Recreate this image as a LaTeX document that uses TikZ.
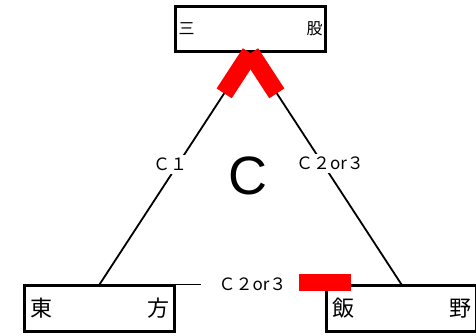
\documentclass[tikz,border=0pt]{standalone}
\usepackage{fontspec}
\setmainfont{Noto Sans CJK JP}
\newfontfamily\markfont{Liberation Sans}
\usetikzlibrary{positioning, calc}
\definecolor{LinkRed}{RGB}{255,0,0}
\newcommand{\spreadname}[3]{\makebox[#3]{#1\hfill#2}}
\tikzset{
  station/.style={
    rectangle, draw=black, line width=3pt, fill=white,
    minimum width=150pt, minimum height=45pt, inner sep=0pt
  },
  link/.style={draw=black, line width=1.8pt},
  clbl/.style={fill=white, inner sep=3pt, font=\fontsize{17pt}{17pt}\selectfont},
  redbar/.style={fill=LinkRed, inner sep=0pt, minimum width=48pt, minimum height=18pt}
}

\begin{document}
\begin{tikzpicture}[x=1pt, y=-1pt]
  \useasboundingbox (0,0) rectangle (476,336);

  % Stations
  \node[station, font=\fontsize{16pt}{16pt}\selectfont]
        (sanmata) at (250.5, 29) {\spreadname{三}{股}{144pt}};
  \node[station, font=\fontsize{22pt}{22pt}\selectfont]
        (higashi) at (99.5, 308.5) {\spreadname{東}{方}{139pt}};
  \node[station, font=\fontsize{22pt}{22pt}\selectfont]
        (iino) at (401.5, 308.5) {\spreadname{飯}{野}{139pt}};

  % Class mark
  \node[font=\markfont\fontsize{54pt}{54pt}\selectfont] (cls) at (248, 176) {C};

  % Links
  \draw[link] (higashi.north) -- node[clbl, xshift=-5pt, yshift=4pt] (c1) {Ｃ１} (sanmata.south);
  \draw[link] (sanmata.south) -- node[clbl, xshift=4pt, yshift=5pt] (c23a) {Ｃ２or３} (iino.north);
  \draw[link] (higashi.north east) -- node[clbl, inner xsep=18pt, xshift=2pt] (c23b) {Ｃ２or３} (iino.north west);

  % Red bars at link ends
  \path (higashi.north) -- (sanmata.south) node[redbar, sloped, pos=1, anchor=east] (barl) {};
  \path (sanmata.south) -- (iino.north) node[redbar, sloped, pos=0, anchor=west] (barr) {};
  \node[redbar, minimum width=52pt, minimum height=17pt] (barb) at ($(iino.north west)+(0,-1.5)$) {};
\end{tikzpicture}
\end{document}
